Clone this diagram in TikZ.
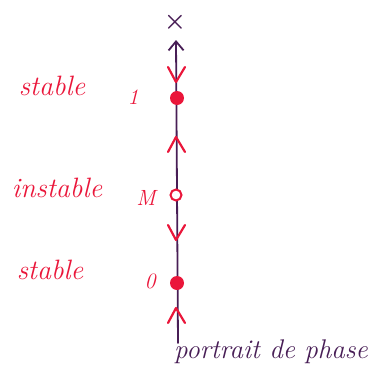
\documentclass[tikz,border=0pt]{standalone}
\usetikzlibrary{arrows.meta}
\definecolor{handred}{RGB}{234,22,58}
\definecolor{inkpurple}{RGB}{72,30,86}
\begin{document}
\begin{tikzpicture}[x=1pt, y=-1pt,
  axis/.style={draw=inkpurple,line width=1.8pt,line cap=round},
  chev/.style={draw=handred,line width=2.2pt,line cap=round,line join=round},
  fixfull/.style={circle,fill=handred,inner sep=0pt,minimum size=14pt},
  fixopen/.style={circle,draw=handred,fill=white,line width=2pt,inner sep=0pt,minimum size=11pt},
  lab/.style={text=handred,font=\fontsize{28}{30}\selectfont\itshape},
  val/.style={text=handred,font=\fontsize{22}{24}\selectfont\itshape}]
  \useasboundingbox (0,0) rectangle (375,383);
  % axis
  \coordinate (bot) at (178,343);
  \coordinate (top) at (176,40);
  \draw[axis,-{Straight Barb[length=9pt,width=15pt,line width=1.8pt]}] (bot) -- (top);
  \node[text=inkpurple,font=\fontsize{24}{24}\selectfont\boldmath] (inf) at (175,22) {$\times$};
  % flow directions
  \foreach \y/\d in {82/1, 137/-1, 240/1, 308/-1}
    \draw[chev] (168,{\y-15*\d}) -- (176,\y) -- (185,{\y-15*\d});
  % fixed points
  \node[fixfull] (p1) at (177,98) {};
  \node[fixopen] (pm) at (176,195) {};
  \node[fixfull] (p0) at (177,283) {};
  % labels
  \node[lab] (s1) at (52,86) {stable};
  \node[val] (v1) at (133,97) {1};
  \node[lab] (in) at (57,188) {instable};
  \node[val] (vm) at (146,198) {M};
  \node[lab] (s0) at (50,270) {stable};
  \node[val] (v0) at (150,281) {0};
  \node[text=inkpurple,font=\fontsize{27}{30}\selectfont\itshape] (title) at (271,352) {portrait de phase};
\end{tikzpicture}
\end{document}
